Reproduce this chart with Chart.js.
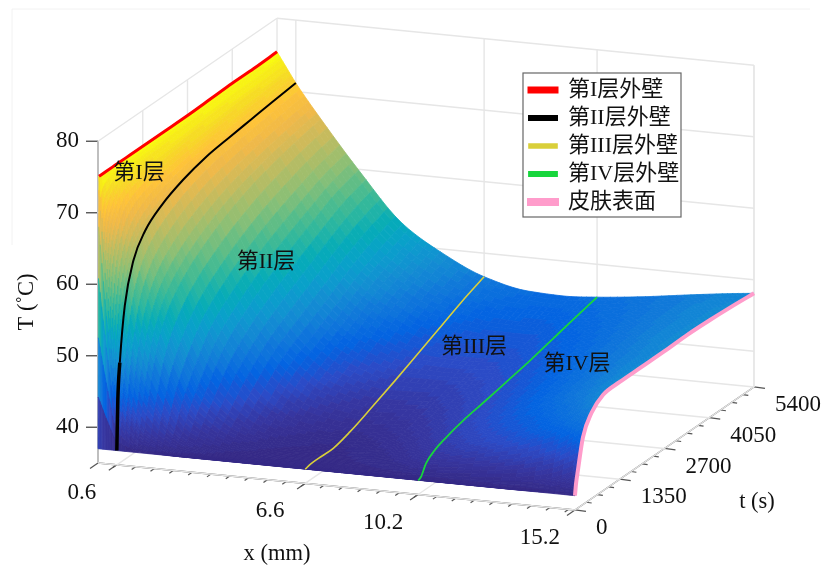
<!DOCTYPE html>
<html>
<head>
<meta charset="utf-8">
<style>
  html, body { margin: 0; padding: 0; background: #fff; }
  canvas { display: block; }
</style>
<script src="https://cdn.jsdelivr.net/npm/chart.js@4/dist/chart.umd.min.js"></script>
</head>
<body>
<canvas id="surface" width="821" height="566"></canvas>
<script>
// grid of the surface
const xValues = [0, 0.3, 0.6, 1.4, 2.6, 4, 5.2, 6.6, 8, 9.2, 10.2, 11.5, 13, 14.2, 15.2]
const tValues = [0, 30, 90, 240, 500, 850, 1350, 2000, 2700, 3400, 4050, 4700, 5400]
const temps = [
  [37, 37, 37, 37, 37, 37, 37, 37, 37, 37, 37, 37, 37, 37, 37],
  [75, 58, 44, 38, 37, 37, 37, 37, 37, 37, 37, 37, 37, 37.4, 38.5],
  [75, 64, 49, 40, 37.5, 37, 37, 37.1, 37, 37, 37.2, 37.4, 37.8, 38.6, 40.3],
  [75, 68, 56.5, 45, 38.5, 37.2, 37, 37.2, 37.2, 37.6, 38.6, 39.4, 40.4, 42, 44.4],
  [75, 70.5, 62, 51, 41, 37.8, 37.2, 37.2, 37.4, 38.3, 39.6, 41, 42.8, 44.8, 47],
  [75, 71.5, 65, 55, 44, 39, 37.5, 37.2, 37.8, 39, 40.3, 42, 44, 46, 48.4],
  [75, 72, 67, 58, 48, 41, 38.5, 37.9, 38.6, 39.8, 41, 42.8, 45, 46.9, 48.6],
  [75, 72.3, 68.5, 60.5, 51, 44, 40.5, 39.2, 39.6, 40.6, 41.6, 43.4, 45.5, 47.2, 48.6],
  [75, 72.6, 69.5, 62.5, 53.5, 46, 42.5, 40.7, 40.8, 41.4, 42.3, 44, 45.9, 47.4, 48.6],
  [75.1, 72.8, 70, 64, 55.5, 48, 44.5, 42.3, 41.9, 42.2, 43, 44.5, 46.3, 47.7, 48.7],
  [75.2, 73, 70.4, 65, 57.2, 50, 46.5, 43.8, 43, 43, 43.8, 45, 46.6, 47.8, 48.6],
  [75.2, 73.1, 70.8, 65.8, 58.8, 51.6, 48, 45.3, 44.1, 44, 44.6, 45.5, 46.8, 47.8, 48.4],
  [75.3, 73.25, 71.2, 66.5, 59.9, 53, 49.6, 46.7, 45.3, 45.1, 45.4, 46, 46.9, 47.6, 48.1]
]

const xTicks = [0.6, 6.6, 10.2, 15.2]
const tTicks = [0, 1350, 2700, 4050, 5400]
const zTicks = [40, 50, 60, 70, 80]
const legendNames = ['第I层外壁', '第II层外壁', '第III层外壁', '第IV层外壁', '皮肤表面']
const layerNames = ['第I层', '第II层', '第III层', '第IV层']

const parula = [
  [53, 42, 135], [54, 54, 160], [44, 74, 198], [3, 99, 225], [16, 120, 218], [20, 142, 210],
  [9, 160, 203], [6, 172, 183], [46, 183, 158], [89, 189, 137], [136, 191, 119], [174, 189, 103],
  [209, 186, 89], [240, 185, 73], [254, 195, 56], [246, 220, 36], [249, 251, 14]
]
const lineColors = ['#ff0000', '#000000', '#ffff00', '#00ff00', '#ff9ccb']
const textFont = '"Liberation Serif", "Noto Sans CJK SC", serif'

// oblique view of the box, x (mm), t (s), T (C) to canvas pixels
function project(x, t, T) {
  return { x: 98 + 31.38 * x + 0.03315 * t, y: 463 + 3.09 * x - 0.02278 * t - 7.15 * (T - 35) }
}

function line(label, points, color, width) {
  return { label, data: points, borderColor: color, backgroundColor: color, borderWidth: width, showLine: true, pointRadius: 0 }
}

function column(i, from) {
  return tValues.slice(from).map((t, j) => project(xValues[i], t, temps[j + from][i]))
}

const curves = [
  line(legendNames[0], column(0, 1), lineColors[0], 3),
  line(legendNames[1], column(2, 0), lineColors[1], 2),
  line(legendNames[2], column(7, 0), '#d9cf3a', 1.6),
  line(legendNames[3], column(10, 0), '#17d63c', 1.8),
  line(legendNames[4], column(14, 0), lineColors[4], 4)
]
curves.forEach(c => { c.cubicInterpolationMode = 'monotone' })
// the black line is heavier where it climbs from the floor
curves[1].segment = { borderWidth: c => c.p0DataIndex < 2 ? 3.5 : 2 }

// box, grid and ticks
const grid = []
const gridColor = '#e6e6e6'
const axisColor = '#555555'
function seg(a, b, color, width) { grid.push(line('', [a, b], color, width)) }

const xEnd = 15.2, tEnd = 5400, zLow = 35, zTop = 80
seg({ x: 12, y: 245 }, { x: 12, y: 9 }, '#f2f2f2', 1)
seg({ x: 12, y: 9 }, { x: 810, y: 9 }, '#f2f2f2', 1)
zTicks.forEach(z => {
  seg(project(0, 0, z), project(0, tEnd, z), gridColor, 1.4)
  seg(project(0, tEnd, z), project(xEnd, tEnd, z), gridColor, 1.4)
})
tTicks.forEach(t => {
  seg(project(0, t, zLow), project(0, t, zTop), gridColor, 1.4)
  seg(project(0, t, zLow), project(xEnd, t, zLow), gridColor, 1.4)
})
xTicks.forEach(x => {
  seg(project(x, tEnd, zLow), project(x, tEnd, zTop), gridColor, 1.4)
  seg(project(x, 0, zLow), project(x, tEnd, zLow), gridColor, 1.4)
})
seg(project(xEnd, tEnd, zLow), project(xEnd, tEnd, zTop), gridColor, 1.4)

seg(project(0, 0, zLow), project(0, 0, zTop), '#666666', 2)
seg(project(0, 0, zLow), project(xEnd, 0, zLow), axisColor, 1.4)
seg(project(xEnd, 0, zLow), project(xEnd, tEnd, zLow), axisColor, 1.4)
zTicks.forEach(z => {
  const p = project(0, 0, z)
  seg(p, { x: p.x - 12, y: p.y }, axisColor, 1.4)
})
function xTick(x, len) {
  const p = project(x, 0, zLow)
  seg(p, { x: p.x - 8 * len, y: p.y + 5.5 * len }, axisColor, 1.2)
}
for (let k = 1; 0.6 * k < xEnd; k++) xTick(0.6 * k, 0.5)
xTick(0, 1)
xTicks.forEach(x => xTick(x, 1))
function tTick(t, len) {
  const p = project(xEnd, t, zLow)
  seg(p, { x: p.x + 11 * len, y: p.y + 1.5 * len }, axisColor, 1.2)
}
for (let k = 0; k <= 16; k++) tTick(337.5 * k, k % 4 === 0 ? 1 : 0.5)

// monotone resampling, only used to shade the surface smoothly
function pchip(xs, ys, q) {
  const n = xs.length
  const d = [], m = [0]
  for (let i = 0; i < n - 1; i++) d.push((ys[i + 1] - ys[i]) / (xs[i + 1] - xs[i]))
  m[0] = d[0]
  m[n - 1] = d[n - 2]
  for (let i = 1; i < n - 1; i++) m[i] = d[i - 1] * d[i] <= 0 ? 0 : 2 * d[i - 1] * d[i] / (d[i - 1] + d[i])
  let i = 0
  while (i < n - 2 && q > xs[i + 1]) i++
  const h = xs[i + 1] - xs[i], s = (q - xs[i]) / h
  return (1 + 2 * s) * (1 - s) * (1 - s) * ys[i] + s * (1 - s) * (1 - s) * h * m[i]
    + s * s * (3 - 2 * s) * ys[i + 1] + s * s * (s - 1) * h * m[i + 1]
}

function refine(values, parts) {
  const out = []
  for (let i = 0; i < values.length - 1; i++) {
    for (let k = 0; k < parts; k++) out.push(values[i] + (values[i + 1] - values[i]) * k / parts)
  }
  out.push(values[values.length - 1])
  return out
}

const fineX = refine(xValues, 6)
const fineT = refine(tValues, 6)
const fineRows = temps.map(row => fineX.map(x => pchip(xValues, row, x)))
const fineTemps = fineT.map(t => fineX.map((x, i) => pchip(tValues, fineRows.map(r => r[i]), t)))

function surfaceColor(T) {
  const level = Math.round(Math.min(1, Math.max(0, (T - 37) / 38)) * 63) / 63
  const pos = level * (parula.length - 1)
  const i = Math.min(parula.length - 2, Math.floor(pos)), f = pos - i
  const c = parula[i].map((v, k) => Math.round(v + (parula[i + 1][k] - v) * f))
  return 'rgb(' + c.join(',') + ')'
}

const surfacePlugin = {
  id: 'surface',
  beforeDatasetDraw(chart, args) {
    if (args.index !== curves.length - 1) return
    const { ctx, scales } = chart
    const pixel = (i, j) => {
      const p = project(fineX[i], fineT[j], fineTemps[j][i])
      return [scales.x.getPixelForValue(p.x), scales.y.getPixelForValue(p.y)]
    }
    ctx.save()
    ctx.lineWidth = 0.8
    ctx.lineJoin = 'round'
    for (let j = fineT.length - 2; j >= 0; j--) {
      for (let i = 0; i < fineX.length - 1; i++) {
        const T = (fineTemps[j][i] + fineTemps[j][i + 1] + fineTemps[j + 1][i] + fineTemps[j + 1][i + 1]) / 4
        const c = surfaceColor(T)
        ctx.fillStyle = c
        ctx.strokeStyle = c
        ctx.beginPath()
        ctx.moveTo(...pixel(i, j))
        ctx.lineTo(...pixel(i + 1, j))
        ctx.lineTo(...pixel(i + 1, j + 1))
        ctx.lineTo(...pixel(i, j + 1))
        ctx.closePath()
        ctx.fill()
        ctx.stroke()
      }
    }
    ctx.restore()
  }
}

function text(ctx, str, x, y, align) {
  ctx.textAlign = align || 'center'
  ctx.fillText(str, x, y)
}

const labelsPlugin = {
  id: 'labels',
  afterLayout(chart) {
    // the legend sits inside the box, top right
    const legend = chart.legend
    const dx = 523 - legend.left, dy = 73 - legend.top
    legend.left += dx; legend.right += dx; legend.top += dy; legend.bottom += dy
    legend.legendHitBoxes.forEach(h => { h.left += dx; h.top += dy })
  },
  afterDatasetsDraw(chart) {
    const { ctx, legend } = chart
    ctx.save()
    ctx.fillStyle = '#ffffff'
    ctx.fillRect(523, 73, 158, 144)
    ctx.strokeStyle = '#666666'
    ctx.lineWidth = 1.2
    ctx.strokeRect(523, 73, 158, 144)
    ctx.restore()
    legend.draw()
    ctx.save()
    // sample lines are longer than the legend box allows
    legend.legendHitBoxes.forEach((h, i) => {
      ctx.fillStyle = lineColors[i]
      ctx.fillRect(h.left + 28, h.top + 9, 9, 4)
    })
    ctx.fillStyle = '#111111'
    ctx.textBaseline = 'middle'
    ctx.font = '23px ' + textFont
    zTicks.forEach(z => { const p = project(0, 0, z); text(ctx, String(z), p.x - 19, p.y, 'right') })
    xTicks.forEach(x => { const p = project(x, 0, zLow); text(ctx, String(x), p.x - 35, p.y + 28) })
    tTicks.forEach(t => { const p = project(xEnd, t, zLow); text(ctx, String(t), p.x + 21, p.y + 18, 'left') })
    ctx.font = '22.5px ' + textFont
    text(ctx, 'x (mm)', 277, 554)
    text(ctx, 't (s)', 757, 502)
    ctx.translate(27, 302)
    ctx.rotate(-Math.PI / 2)
    text(ctx, 'T (˚C)', 0, 0)
    ctx.restore()
    ctx.save()
    ctx.fillStyle = '#111111'
    ctx.textBaseline = 'middle'
    ctx.font = '22px ' + textFont
    text(ctx, layerNames[0], 139, 173)
    text(ctx, layerNames[1], 266, 262)
    text(ctx, layerNames[2], 474, 347)
    text(ctx, layerNames[3], 577, 364)
    ctx.restore()
  }
}

new Chart(document.getElementById('surface'), {
  type: 'scatter',
  data: { datasets: curves.concat(grid) },
  plugins: [surfacePlugin, labelsPlugin],
  options: {
    responsive: false,
    animation: false,
    layout: { padding: 0 },
    scales: {
      x: { type: 'linear', display: false, min: 0, max: 821 },
      y: { type: 'linear', display: false, min: 0, max: 566, reverse: true }
    },
    plugins: {
      tooltip: { enabled: false },
      legend: {
        position: 'chartArea',
        align: 'start',
        labels: {
          boxWidth: 28,
          boxHeight: 4,
          padding: 6,
          color: '#111111',
          font: { size: 22, family: textFont, lineHeight: 1.2 },
          filter: item => item.text !== ''
        }
      }
    }
  }
})
</script>
</body>
</html>
